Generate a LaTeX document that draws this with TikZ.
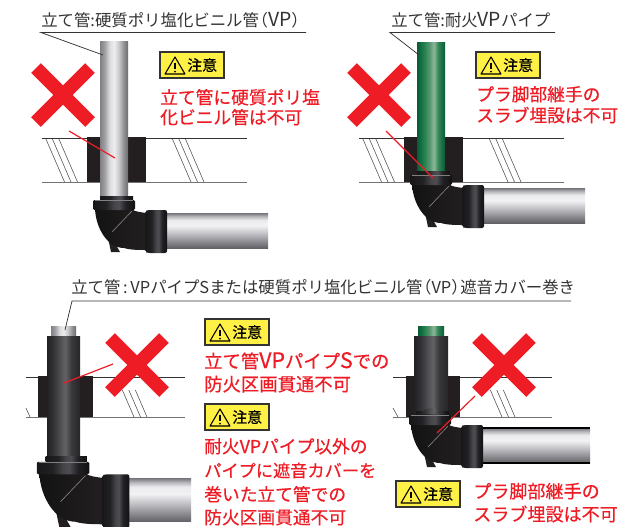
\documentclass[tikz,border=0pt]{standalone}
\usepackage{fontspec}
\setmainfont{Noto Sans CJK JP}
\newfontfamily\jpb{Noto Sans CJK JP}[FakeBold=0.5]
\usetikzlibrary{calc}
\definecolor{ng}{HTML}{EE1C25}
\definecolor{yb}{HTML}{FFF045}
\definecolor{tx}{HTML}{333333}
\definecolor{blk}{HTML}{231F20}
\pgfdeclarehorizontalshading{vgray}{100bp}{rgb(0bp)=(.5,.5,.52);rgb(25bp)=(.5,.5,.52);rgb(33bp)=(.62,.62,.64);rgb(42bp)=(.86,.86,.87);rgb(50bp)=(.93,.93,.94);rgb(58bp)=(.8,.8,.81);rgb(68bp)=(.55,.55,.57);rgb(75bp)=(.42,.42,.44);rgb(100bp)=(.42,.42,.44)}
\pgfdeclarehorizontalshading{vgreen}{100bp}{rgb(0bp)=(.03,.36,.2);rgb(25bp)=(.03,.36,.2);rgb(35bp)=(.1,.48,.28);rgb(48bp)=(.35,.6,.45);rgb(55bp)=(.55,.72,.6);rgb(63bp)=(.2,.52,.34);rgb(75bp)=(.03,.36,.2);rgb(100bp)=(.03,.36,.2)}
\pgfdeclarehorizontalshading{vdark}{100bp}{rgb(0bp)=(.13,.13,.14);rgb(25bp)=(.13,.13,.14);rgb(35bp)=(.2,.2,.21);rgb(47bp)=(.33,.33,.35);rgb(53bp)=(.38,.38,.4);rgb(62bp)=(.22,.22,.23);rgb(75bp)=(.15,.15,.16);rgb(100bp)=(.15,.15,.16)}
\pgfdeclareverticalshading{hgray}{100bp}{rgb(0bp)=(.38,.38,.4);rgb(25bp)=(.38,.38,.4);rgb(33bp)=(.52,.52,.54);rgb(45bp)=(.74,.74,.76);rgb(57bp)=(.95,.95,.96);rgb(65bp)=(.92,.92,.93);rgb(70bp)=(.72,.72,.74);rgb(75bp)=(.45,.45,.47);rgb(100bp)=(.45,.45,.47)}
\pgfdeclarehorizontalshading{vblack}{100bp}{rgb(0bp)=(.09,.09,.1);rgb(25bp)=(.09,.09,.1);rgb(40bp)=(.13,.13,.14);rgb(50bp)=(.27,.27,.29);rgb(56bp)=(.3,.3,.32);rgb(64bp)=(.13,.13,.14);rgb(75bp)=(.07,.07,.08);rgb(100bp)=(.07,.07,.08)}
\newcommand{\bigT}[1]{{\fontsize{14.5pt}{13pt}\selectfont #1}}
\newcommand{\bigR}[1]{{\fontsize{16pt}{13pt}\selectfont #1}}
\tikzset{
 x=0.75pt,y=-0.75pt,
 titletext/.style={anchor=base west,inner sep=0pt,text=tx,font=\fontsize{12.3pt}{13pt}\selectfont},
 redtext/.style={anchor=base west,inner sep=0pt,text=ng,font=\jpb\fontsize{13.3pt}{15pt}\selectfont},
 redbig/.style={redtext,font=\jpb\fontsize{13.75pt}{15pt}\selectfont},
 redmid/.style={redtext,font=\jpb\fontsize{13.55pt}{15pt}\selectfont},
 redsmall/.style={redtext,font=\jpb\fontsize{12.9pt}{15pt}\selectfont},
 warntext/.style={anchor=west,inner sep=0pt,text=black,font=\jpb\fontsize{11.2pt}{12pt}\selectfont},
 leaderline/.style={draw=tx,line width=0.55pt},
 redleader/.style={draw=ng,line width=0.9pt},
 slabline/.style={draw=black!80,line width=0.6pt},
 hatchline/.style={draw=black!65,line width=0.45pt},
 sleeve/.style={fill=blk},
 crossbar/.style={draw=ng,line width=10.2pt},
}
\newcommand{\warnbox}[3]{%
 \begin{scope}[shift={(#2,#3)}]
  \fill[yb,draw=black!80,line width=0.9pt] (0,0) rectangle (64,26);
  \draw[black,fill=yb,line width=0.8pt,line join=round] (15,5) -- (25,22) -- (5,22) -- cycle;
  \draw[black,line width=1.1pt] (15,10.5) -- (15,17);
  \fill[black] (15,19.6) circle (1.1);
  \node[warntext] (#1) at (27,13) {注意};
 \end{scope}}
\newcommand{\crossmark}[3]{%
 \coordinate (#1) at (#2,#3);
 \draw[crossbar] ($(#1)+(-27,-27)$) -- ($(#1)+(27,27)$);
 \draw[crossbar] ($(#1)+(27,-27)$) -- ($(#1)+(-27,27)$);}
\newcommand{\elbow}[5]{%
 \begin{scope}[shift={(#1,#2)},scale=#3]
  \shade[shading=hgray] (66,16) rectangle (#4,51);
  #5
  \fill[blk] (7,36) -- (11,55) -- (20,55) -- (15.5,47) -- (20,45) -- cycle;
  \shade[left color=black!85!gray,right color=blk] (-5,12) .. controls (-4,32) and (8,51) .. (24,51)
     .. controls (30,53) and (40,53) .. (46,53) -- (46,16) .. controls (40,15) and (36,15) .. (31,12) -- cycle;
  \draw[black!50,line width=0.5pt] (12,35) -- (32,14);
  \shade[shading=vblack,rounded corners=1.5pt] (45,14) -- (48,13) -- (67,13) -- (67,56) -- (48,56) -- (45,55) -- cycle;
  \shade[shading=vblack,rounded corners=1pt] (-7,3) rectangle (35,13);
  \shade[shading=vblack] (0,-1) rectangle (33,3);
  \draw[black!50,line width=0.3pt] (-5,3.5) -- (33,3.5);
 \end{scope}}
\newcommand{\slab}[4]{%
 \draw[slabline] (#1,#3) -- (#2,#3);
 \draw[slabline,draw=black!55] (#1,#4) -- (#2,#4);}
\newcommand{\hatch}[3]{%
 \foreach \d in {0,6.5,13}{\draw[hatchline] ({#1+\d-19*(#3-#2)/44},#2) -- ({#1+\d},#3);}}
\begin{document}
\begin{tikzpicture}
\useasboundingbox (0,0) rectangle (633,526);
\fill[white] (0,0) rectangle (633,526);

% ===== panel 1 =====
\slab{42}{247}{138}{182}
\hatch{64.5}{139}{182}
\hatch{191}{139}{182}
\fill[sleeve] (87,137) rectangle (146,182);
\shade[shading=vgray] (100,41) rectangle (128,197);
\elbow{100}{197}{1}{168}{}
\node[titletext] (t1) at (41,26) {立て管:硬質ポリ塩化ビニル管\kern-.45em（\bigT{VP}）};
\coordinate (t1a) at (41,32.5); \coordinate (t1b) at (306,32.5); \coordinate (t1c) at (103,55);
\draw[leaderline] (t1b) -- (t1a) -- (t1c);
\crossmark{x1}{63}{95}
\coordinate (r1a) at (69,131); \coordinate (r1b) at (115,158);
\draw[redleader] (r1a) -- (r1b);
\warnbox{w1}{160}{52}
\node[redtext] (r1) at (160,104) {立て管に硬質ポリ塩};
\node[redtext] (r1l) at (160,124) {化ビニル管は不可};

% ===== panel 2 =====
\slab{359}{564}{138}{182}
\hatch{381.5}{139}{182}
\hatch{508}{139}{182}
\fill[sleeve] (404,137) rectangle (463,182);
\shade[shading=vgreen] (417,42) rectangle (445,172);
\elbow{417}{172}{1}{168}{}
\node[titletext] (t2) at (391,26) {立て管:耐火\bigT{VP}パイプ};
\coordinate (t2a) at (390,32.5); \coordinate (t2b) at (555,32.5); \coordinate (t2c) at (419,55);
\draw[leaderline] (t2b) -- (t2a) -- (t2c);
\crossmark{x2}{379}{95}
\coordinate (r2a) at (386,131); \coordinate (r2b) at (433,178);
\draw[redleader] (r2a) -- (r2b);
\warnbox{w2}{476}{52}
\node[redtext] (r2) at (476,101) {プラ脚部継手の};
\node[redtext] (r2l) at (476,122) {スラブ埋設は不可};

% ===== panel 3 =====
\slab{26}{185}{377}{417}
\draw[hatchline] (26,408) -- (30,417);
\hatch{134}{390}{417}
\fill[sleeve] (38,376) rectangle (93,417);
\shade[shading=vgray] (51,326) rectangle (76,337);
\shade[shading=vdark] (47,336) rectangle (80,462);
\elbow{45.5}{458}{1.25}{116.5}{}
\node[titletext] (t3) at (71,293) {立て管\,:\,VPパイプSまたは硬質ポリ塩化ビニル管\kern-.45em（VP）\kern-.45em遮音カバー巻き};
\coordinate (t3a) at (72,301); \coordinate (t3b) at (571,301); \coordinate (t3c) at (65,330);
\draw[leaderline] (t3b) -- (t3a) -- (t3c);
\crossmark{x3}{137}{365}
\coordinate (r3a) at (113,364); \coordinate (r3b) at (64,383);
\draw[redleader] (r3a) -- (r3b);
\warnbox{w3}{205}{319}
\node[redbig] (r3) at (204,368) {立て管\bigR{VP}パイプ\bigR{S}での};
\node[redbig] (r3l) at (204,391) {防火区画貫通不可};
\warnbox{w4}{205}{404}
\node[redtext] (r4a) at (204,453) {耐火VPパイプ以外の};
\node[redsmall] (r4b) at (204,477) {パイプに遮音カバーを};
\node[redtext] (r4c) at (204,501) {巻いた立て管での};
\node[redtext] (r4d) at (204,524) {防火区画貫通不可};

% ===== panel 4 =====
\slab{393}{552}{377}{417}
\draw[hatchline] (393,408) -- (398,417);
\hatch{502}{390}{417}
\fill[sleeve] (406,376) rectangle (460,417);
\shade[shading=vgreen] (418,326) rectangle (444,337);
\shade[shading=vdark] (414,336) rectangle (448,412);
\elbow{416}{412}{1}{174}{\draw[black,line width=1.6pt] (66,16) -- (174,16) (66,51) -- (174,51);}
\shade[shading=vdark] (420,414) .. controls (424,406) and (440,406) .. (445,414) -- cycle;
\coordinate (r5a) at (475,396); \coordinate (r5b) at (437,433);
\crossmark{x4}{504}{365}
\draw[redleader] (r5a) -- (r5b);
\warnbox{w5}{396}{481}
\node[redmid] (r5) at (473,498) {プラ脚部継手の};
\node[redmid] (r5l) at (473,521) {スラブ埋設は不可};
\end{tikzpicture}
\end{document}
